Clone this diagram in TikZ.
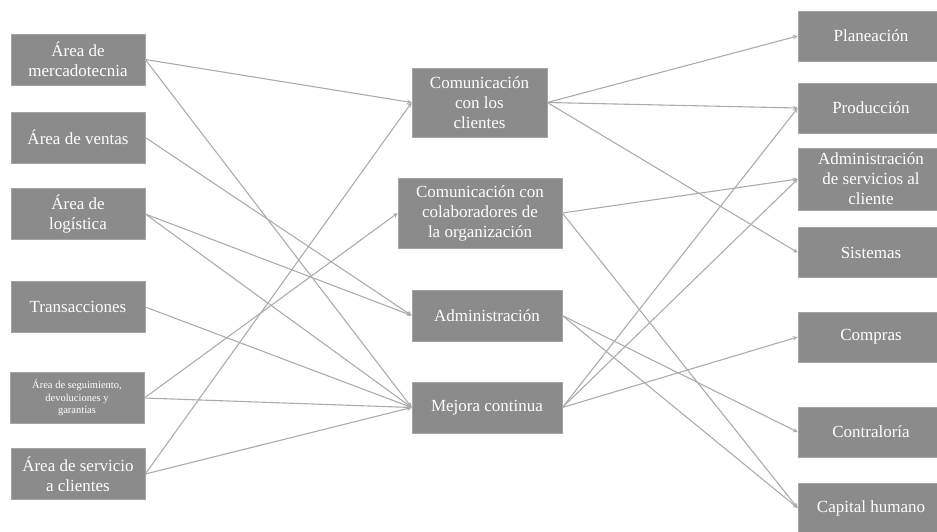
\documentclass[tikz,border=0pt]{standalone}
\usepackage{fontspec}
\setmainfont{Liberation Serif}
\usepackage{tikz}
\usetikzlibrary{arrows,positioning}

\definecolor{boxgray}{RGB}{139,139,139}
\definecolor{boxedge}{RGB}{165,165,165}
\definecolor{linegray}{RGB}{172,172,172}

\tikzset{
  box/.style={fill=boxgray,draw=boxedge,line width=0.6pt,text=white,align=center,
    inner sep=1pt,font=\fontsize{17}{20}\selectfont},
  small/.style={font=\fontsize{10.5}{12.5}\selectfont},
  link/.style={draw=linegray,line width=1.1pt,-stealth}
}

\begin{document}
\begin{tikzpicture}[x=1pt,y=-1pt]
\useasboundingbox (0,0) rectangle (937,531);
%\draw[help lines] (0,0) grid[step=50] (937,531);
% areas
\begin{scope}[every node/.style={box,minimum width=134pt,minimum height=51pt}]
\node (mkt) at (78,59.5) {Área de\\mercadotecnia};
\node (ven) at (78,137.5) {Área de ventas};
\node (log) at (78,214) {Área de\\logística};
\node (tra) at (78,307) {Transacciones};
\node[small] (seg) at (77,398) {Área de seguimiento,\\devoluciones y\\garantías};
\node (ser) at (78,474) {Área de servicio\\a clientes};
\end{scope}
% procesos
\node[box,minimum width=135pt,minimum height=69pt] (cli) at (479.5,102.5) {Comunicación\\con los\\clientes};
\node[box,minimum width=164pt,minimum height=70pt] (col) at (480,213) {Comunicación con\\colaboradores de\\la organización};
\node[box,minimum width=150pt,minimum height=51pt] (adm) at (487,315.5) {Administración};
\node[box,minimum width=150pt,minimum height=51pt] (mej) at (487,407.5) {Mejora continua};
% departamentos
\begin{scope}[every node/.style={box,minimum width=146pt,minimum height=50pt}]
\node (pla) at (871,36) {Planeación};
\node (pro) at (871,108) {Producción};
\node[minimum height=62pt] (ads) at (871,179) {Administración\\de servicios al\\cliente};
\node (sis) at (871,252.5) {Sistemas};
\node (com) at (871,337) {Compras};
\node (con) at (871,432) {Contraloría};
\node (cap) at (871,508) {Capital humano};
\end{scope}
%
\foreach \a/\b in {mkt/cli,mkt/mej,ven/adm,log/adm,log/mej,tra/mej,seg/col,seg/mej,ser/cli,ser/mej}
\draw[link] (\a.east) -- (\b.west);
%
\foreach \a/\b in {cli/pla,cli/pro,cli/sis,col/ads,col/cap,adm/con,adm/cap,mej/pro,mej/ads,mej/com}
\draw[link] (\a.east) -- (\b.west);
\end{tikzpicture}
\end{document}
